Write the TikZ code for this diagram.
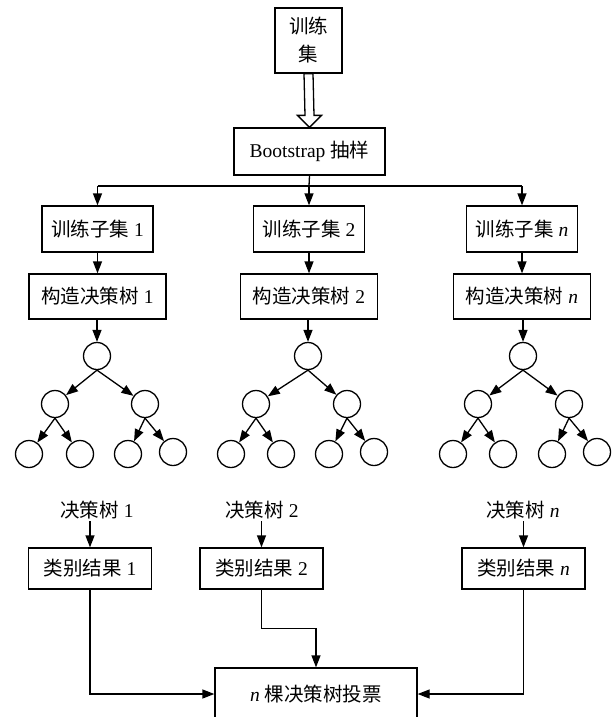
\documentclass[tikz,border=0pt]{standalone}
\usepackage{fontspec}
\setmainfont{Liberation Serif}
\newfontfamily\cjkfont{Noto Sans CJK SC}
\newcommand{\zh}[1]{{\cjkfont #1}}
\usetikzlibrary{arrows.meta,calc}
\begin{document}
\begin{tikzpicture}[x=1pt,y=-1pt,
  every node/.style={font=\fontsize{19.5}{23}\selectfont},
  box/.style={draw,line width=1.3pt,inner sep=2pt,align=center},
  sbox/.style={box,minimum width=111pt,minimum height=46pt},
  cbox/.style={box,minimum width=137pt,minimum height=45pt},
  rbox/.style={box,minimum width=123pt,minimum height=41pt},
  tn/.style={draw,circle,line width=1.3pt,minimum size=27pt,inner sep=0pt},
  lbl/.style={inner sep=2pt},
  arr/.style={line width=1.3pt,-{Triangle[length=12pt,width=9pt]}},
  ln/.style={line width=1.3pt}]
\useasboundingbox (0,0) rectangle (614,717);
\clip (0,0) rectangle (614,717);
% top
\node[box,minimum width=67pt,minimum height=65pt] (top) at (308.5,40.5) {\zh{训练}\\[5pt]\zh{集}};
\node[box,minimum width=151pt,minimum height=47pt] (boot) at (309.5,151.5) {Bootstrap \zh{抽样}};
\draw[ln,fill=white] ($(top.south)+(-4.5,0)$) -- ($(boot.north)+(-4.5,-12)$) -- ($(boot.north)+(-12,-12)$)
  -- (boot.north) -- ($(boot.north)+(12,-12)$) -- ($(boot.north)+(4.5,-12)$) -- ($(top.south)+(4.5,0)$) -- cycle;
% subsets
\node[sbox] (s1) at (97.5,229) {\zh{训练子集} 1};
\node[sbox] (s2) at (309,229) {\zh{训练子集} 2};
\node[sbox] (sn) at (522,229) {\zh{训练子集} \textit{n}};
\coordinate (bus) at (309,186);
\draw[ln] (boot.south) -- (bus);
\draw[ln] (s1.north |- bus) -- (sn.north |- bus);
\foreach \s in {s1,s2,sn} \draw[arr] (\s.north |- bus) -- (\s.north);
% construct
\node[cbox] (c1) at (97.5,296.5) {\zh{构造决策树} 1};
\node[cbox] (c2) at (309,296.5) {\zh{构造决策树} 2};
\node[cbox] (cn) at (522,296.5) {\zh{构造决策树} \textit{n}};
\draw[arr] (s1) -- (c1);
\draw[arr] (s2) -- (c2);
\draw[arr] (sn) -- (cn);
% trees
\node[tn] (a0) at (97,356) {};
\node[tn] (a1) at (55,404) {};
\node[tn] (a2) at (145,404) {};
\node[tn] (a3) at (29,454) {};
\node[tn] (a4) at (80,454) {};
\node[tn] (a5) at (128,454) {};
\node[tn] (a6) at (173,452) {};
\node[tn] (b0) at (308,356) {};
\node[tn] (b1) at (256,404) {};
\node[tn] (b2) at (347,404) {};
\node[tn] (b3) at (231,454) {};
\node[tn] (b4) at (281,454) {};
\node[tn] (b5) at (329,454) {};
\node[tn] (b6) at (374,452) {};
\node[tn] (n0) at (523,356) {};
\node[tn] (n1) at (478,404) {};
\node[tn] (n2) at (569,404) {};
\node[tn] (n3) at (453,454) {};
\node[tn] (n4) at (503,454) {};
\node[tn] (n5) at (552,454) {};
\node[tn] (n6) at (597,452) {};
\draw[arr] (c1.south -| a0) -- (a0.north);
\draw[arr] (c2.south -| b0) -- (b0.north);
\draw[arr] (cn.south -| n0) -- (n0.north);
\foreach \t in {a,b,n}{
  \draw[arr] (\t0.south) -- (\t1);
  \draw[arr] (\t0.south) -- (\t2);
  \draw[arr] (\t1.south) -- (\t3);
  \draw[arr] (\t1.south) -- (\t4);
  \draw[arr] (\t2.south) -- (\t5);
  \draw[arr] (\t2.south) -- (\t6);
}
% results
\node[lbl] (d1) at (97,510) {\zh{决策树} 1};
\node[lbl] (d2) at (262,510) {\zh{决策树} 2};
\node[lbl] (dn) at (523,510) {\zh{决策树} \textit{n}};
\node[rbox] (r1) at (90,568.5) {\zh{类别结果} 1};
\node[rbox] (r2) at (261.5,568.5) {\zh{类别结果} 2};
\node[rbox] (rn) at (523.5,568.5) {\zh{类别结果} \textit{n}};
\draw[arr] (r1.north |- d1.south) -- (r1.north);
\draw[arr] (r2.north |- d2.south) -- (r2.north);
\draw[arr] (rn.north |- dn.south) -- (rn.north);
% vote
\node[box,minimum width=202pt,minimum height=52pt] (vote) at (316,694) {\textit{n} \zh{棵决策树投票}};
\draw[arr] (r1.south) |- (vote.west);
\draw[arr] (rn.south) |- (vote.east);
\draw[arr] (r2.south) -- ++(0,38.5) -| (vote.north);
\end{tikzpicture}
\end{document}
